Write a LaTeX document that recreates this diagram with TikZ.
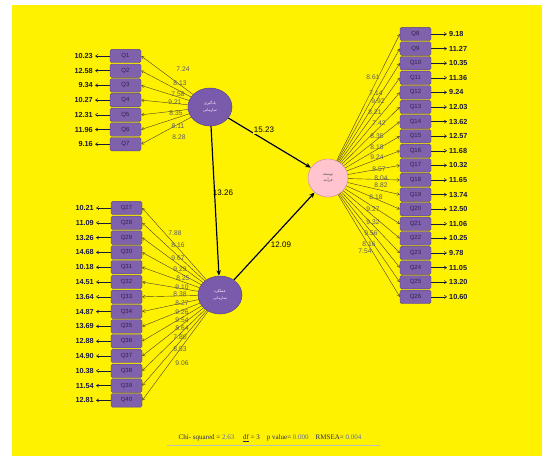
\documentclass[tikz,border=0pt]{standalone}
\usepackage{fontspec}
\setmainfont{Liberation Sans}
\newfontfamily\arabicfont[Script=Arabic]{DejaVu Sans}
\newfontfamily\footserif{Liberation Serif}
\TeXXeTstate=1
\usetikzlibrary{arrows.meta,shapes.geometric}
\definecolor{bgyellow}{RGB}{255,242,0}
\definecolor{boxpurple}{RGB}{128,98,172}
\definecolor{boxedge}{RGB}{88,66,140}
\definecolor{qtext}{RGB}{45,30,80}
\definecolor{ellpurple}{RGB}{122,90,170}
\definecolor{pinkfill}{RGB}{255,196,206}
\definecolor{pinkedge}{RGB}{215,140,155}
\definecolor{loadline}{RGB}{75,65,40}
\definecolor{loadtext}{RGB}{90,90,105}
\definecolor{valtextc}{RGB}{25,25,60}
\definecolor{footc}{RGB}{40,40,90}
\definecolor{footnum}{RGB}{90,110,170}
\tikzset{
  qbox/.style={draw=boxedge, fill=boxpurple, rounded corners=1.5pt, minimum width=31pt, minimum height=13.4pt, inner sep=0pt, text=qtext, font=\fontsize{6}{7}\selectfont},
  valarrow/.style={-{Straight Barb[length=2.4pt,width=3.2pt]}, draw=valtextc, line width=0.5pt},
  valtext/.style={text=valtextc, font=\bfseries\fontsize{7.3}{8}\selectfont, inner sep=0.5pt},
  loadarrow/.style={-{Straight Barb[length=2.5pt,width=3pt]}, draw=loadline, line width=0.4pt},
  loadlbl/.style={text=loadtext, font=\fontsize{6.7}{7}\selectfont, inner sep=0.3pt},
  latent/.style={ellipse, draw=boxedge, fill=ellpurple, line width=0.5pt, minimum width=44pt, minimum height=38pt, inner sep=0pt, text=white, align=center, font=\arabicfont\fontsize{3.8}{6.5}\selectfont},
  structarrow/.style={-{Stealth[length=5.5pt,width=4.5pt]}, line width=1.2pt, draw=black},
  structlbl/.style={fill=bgyellow, inner sep=0.8pt, text=black, font=\fontsize{8}{9}\selectfont}
}
\begin{document}
\begin{tikzpicture}[x=1pt,y=-1pt]
\fill[white] (0,0) rectangle (542,461);
\fill[bgyellow] (12,5) rectangle (542,456);
\useasboundingbox (0,0) rectangle (542,461);

% latent variables
\node[latent] (E1) at (210,107) {\beginR یادگیری\endR\\\beginR سازمانی\endR};
\node[latent] (E2) at (220,295) {\beginR عملکرد\endR\\\beginR سازمانی\endR};
\node[latent, draw=pinkedge, fill=pinkfill, text=black!70, minimum width=40pt] (E3) at (328,178) {\beginR توسعه\endR\\\beginR فرآیند\endR};

% left-top indicators
\foreach \i/\v [count=\k from 0] in {1/10.23,2/12.58,3/9.34,4/10.27,5/12.31,6/11.96,7/9.16}{
  \node[qbox] (Q\i) at (125.5,56+14.7*\k) {Q\i};
  \coordinate (v\i) at (95,56+14.7*\k);
  \draw[valarrow] (Q\i.west) -- (v\i);
  \node[valtext, anchor=east, xshift=-1.5pt] (t\i) at (v\i) {\v};
  \draw[loadarrow] (E1) -- (Q\i.east);
}
% right indicators
\foreach \i/\v [count=\k from 0] in {8/9.18,9/11.27,10/10.35,11/11.36,12/9.24,13/12.03,14/13.62,15/12.57,16/11.68,17/10.32,18/11.65,19/13.74,20/12.50,21/11.06,22/10.25,23/9.78,24/11.05,25/13.20,26/10.60}{
  \node[qbox] (Q\i) at (415.5,34+14.6*\k) {Q\i};
  \coordinate (v\i) at (447,34+14.6*\k);
  \draw[valarrow] (Q\i.east) -- (v\i);
  \node[valtext, anchor=west, xshift=1.5pt] (t\i) at (v\i) {\v};
  \draw[loadarrow] (E3) -- (Q\i.west);
}
% left-bottom indicators
\foreach \i/\v [count=\k from 0] in {27/10.21,28/11.09,29/13.26,30/14.68,31/10.18,32/14.51,33/13.64,34/14.87,35/13.69,36/12.88,37/14.90,38/10.38,39/11.54,40/12.81}{
  \node[qbox] (Q\i) at (126.5,208+14.8*\k) {Q\i};
  \coordinate (v\i) at (96,208+14.8*\k);
  \draw[valarrow] (Q\i.west) -- (v\i);
  \node[valtext, anchor=east, xshift=-1.5pt] (t\i) at (v\i) {\v};
  \draw[loadarrow] (E2) -- (Q\i.east);
}

% loading labels
\foreach \x/\y/\t [count=\n] in {183/69/7.24,180/83/8.13,178/94/7.58,175/102/9.21,176/113/8.35,178/126/8.11,179/137/8.28}
  \node[loadlbl] (la\n) at (\x,\y) {\t};
\foreach \x/\y/\t [count=\n] in {373/77/8.61,376/93/7.14,378/101/9.92,375/112/8.21,379/123/7.42,377/136/8.35,377/147/8.18,377/157/9.24,379/169/8.57,381/178/8.04,381/185/8.82,376/197/8.18,373/209/9.27,373/222/9.32,371/233/9.56,369/244/8.16,365/251/7.54}
  \node[loadlbl] (lb\n) at (\x,\y) {\t};
\foreach \x/\y/\t [count=\n] in {175/233/7.88,178/245/8.16,178/258/9.67,180/269/9.29,183/278/8.25,182/287/9.10,180/294/8.38,182/303/8.27,182/312/9.26,182/320/9.54,182/328/8.64,180/337/7.80,180/349/8.53,182/363/9.06}
  \node[loadlbl] (lc\n) at (\x,\y) {\t};

% structural paths
\draw[white, line width=1.2pt, shift={(1.3,1.3)}] (E1) -- (E3);
\draw[white, line width=1.2pt, shift={(1.3,0)}] (E1) -- (E2);
\draw[white, line width=1.2pt, shift={(1.3,1.3)}] (E2) -- (E3);
\draw[structarrow] (E1) -- (E3);
\draw[structarrow] (E1) -- (E2);
\draw[structarrow] (E2) -- (E3);
\node[structlbl] (p1) at (264,130) {15.23};
\node[structlbl, fill=none] (p2) at (223,193) {13.26};
\node[structlbl] (p3) at (281,245) {12.09};

% fit statistics
\node[text=footc, font=\footserif\fontsize{7}{8}\selectfont, inner sep=0pt] (fit) at (270,438)
  {Chi- squared = \textcolor{footnum}{2.63}\quad\ \underline{df} = 3\quad p value= \textcolor{footnum}{0.000}\quad RMSEA= \textcolor{footnum}{0.004}};
\coordinate (fl1) at (167,445);
\coordinate (fl2) at (380,445);
\draw[black!25, line width=0.6pt] (fl1) -- (fl2);
\end{tikzpicture}
\end{document}
